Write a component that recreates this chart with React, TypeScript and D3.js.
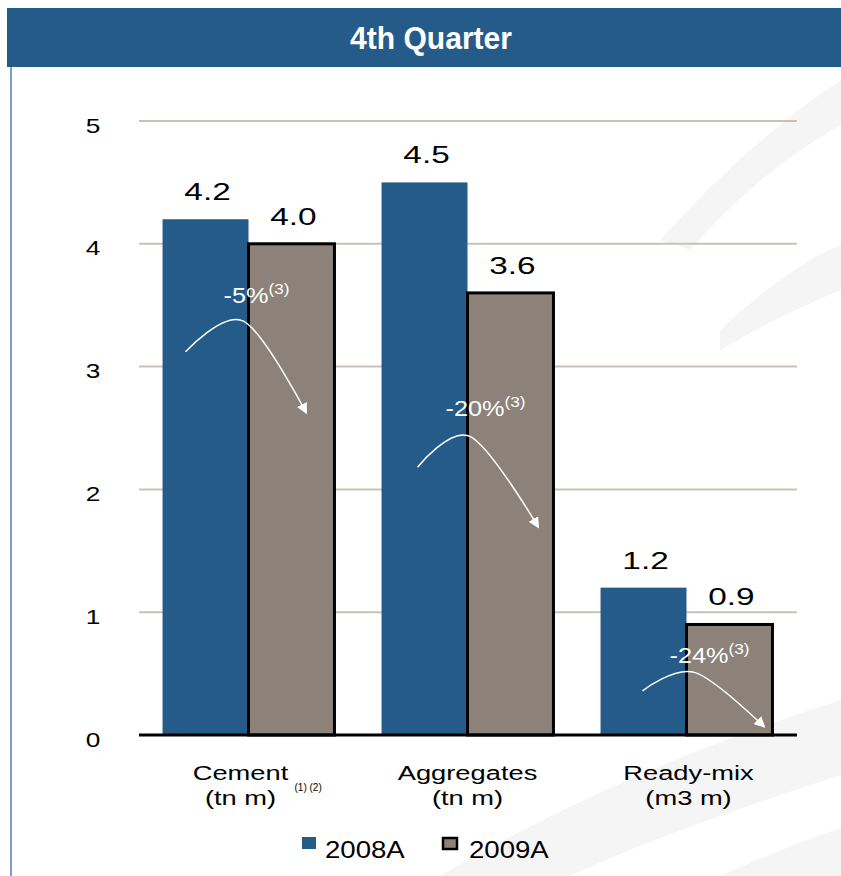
import React from 'react';
import * as d3 from 'd3';

const categories = ['Cement', 'Aggregates', 'Ready-mix'];
const unitLabels = ['(tn m)', '(tn m)', '(m3 m)'];
const series = ['2008A', '2009A'];
const values2008 = [4.2, 4.5, 1.2];
const values2009 = [4.0, 3.6, 0.9];
const yTicks = [0, 1, 2, 3, 4, 5];

// change annotations (y in value units, x as offset from the bar boundary)
const changeLabels = ['-5%', '-20%', '-24%'];
const changeTextDx = [-25, -22, -17];
const changeTextY = [3.52, 2.6, 0.59];
const arrowStart = [[-63, 3.12], [-50, 2.18], [-44, 0.36]];
const arrowPeak = [[-5, 3.37], [3, 2.43], [8, 0.51]];
const arrowTip = [[58, 2.62], [71, 1.69], [78, 0.065]];

const W = 841;
const H = 876;
const BLUE = '#255b89';
const TAUPE = '#8c8279';
const FONT = '"Liberation Sans", Arial, sans-serif';

const App: React.FC = () => {
  const x0 = d3.scaleBand<string>()
    .domain(categories)
    .range([139, 796])
    .paddingInner(0.215)
    .paddingOuter(0.1075);

  const x1 = d3.scaleBand<string>()
    .domain(series)
    .range([0, x0.bandwidth()]);

  const y = d3.scaleLinear().domain([0, 5]).range([735, 121]);

  const curve = d3.line<number[]>()
    .x(d => d[0])
    .y(d => d[1])
    .curve(d3.curveCardinal);

  const [gx0, gx1] = x0.range();

  return (
    <svg width={W} height={H} style={{ position: 'absolute', left: 0, top: 0 }} fontFamily={FONT}>
      <defs>
        <marker id="head" viewBox="0 0 10 10" refX="9" refY="5" markerWidth="11" markerHeight="11"
          markerUnits="userSpaceOnUse" orient="auto">
          <path d="M0,0 L10,5 L0,10 z" fill="#fff" />
        </marker>
      </defs>
      <rect width={W} height={H} fill="#fff" />

      {/* faint background swooshes */}
      <g fill="#f5f5f5">
        <path d="M660,240 Q750,140 841,80 L841,125 Q760,170 690,250 Z" />
        <path d="M720,330 Q790,265 841,245 L841,290 Q780,315 720,350 Z" />
        <path d="M440,876 Q620,770 841,700 L841,775 Q670,830 570,876 Z" />
        <path d="M720,876 Q790,845 841,828 L841,876 Z" />
      </g>

      {/* header */}
      <rect x={7} y={8} width={W - 7} height={59} fill={BLUE} />
      <g transform="translate(431,49) scale(0.97,1)">
        <text fill="#fff" fontSize={31} fontWeight="bold" textAnchor="middle">4th Quarter</text>
      </g>
      <line x1={11} x2={11} y1={67} y2={H} stroke="#4f7fb3" strokeWidth={1.5} />

      {/* grid */}
      {yTicks.filter(t => t > 0).map(t => (
        <line key={t} x1={gx0} x2={gx1 + 1} y1={y(t)} y2={y(t)} stroke="#c9c1b9" strokeWidth={2} />
      ))}
      {yTicks.map(t => (
        <g key={'l' + t} transform={`translate(93,${y(t) + 4}) scale(1.25,1)`}>
          <text fontSize={21} textAnchor="middle" dominantBaseline="central" fill="#000">{t}</text>
        </g>
      ))}

      {/* bars */}
      {categories.map((c, i) => {
        const bx = x0(c)!;
        const w = x1.bandwidth();
        const xa = bx + x1('2008A')!;
        const xb = bx + x1('2009A')!;
        return (
          <g key={c}>
            <rect x={xa} y={y(values2008[i])} width={w} height={y(0) - y(values2008[i])} fill={BLUE} />
            <rect x={xb} y={y(values2009[i])} width={w} height={y(0) - y(values2009[i])}
              fill={TAUPE} stroke="#000" strokeWidth={3} />
            <g transform={`translate(${xa + w / 2 + 2},${y(values2008[i]) - 19}) scale(1.45,1)`}>
              <text fontSize={23} textAnchor="middle">{values2008[i].toFixed(1)}</text>
            </g>
            <g transform={`translate(${xb + w / 2 + 2},${y(values2009[i]) - 19}) scale(1.45,1)`}>
              <text fontSize={23} textAnchor="middle">{values2009[i].toFixed(1)}</text>
            </g>
          </g>
        );
      })}

      {/* axis */}
      <line x1={gx0} x2={gx1 + 1} y1={y(0)} y2={y(0)} stroke="#000" strokeWidth={3} />

      {/* change annotations */}
      {categories.map((c, i) => {
        const b = x0(c)! + x1('2009A')!;
        const pts = [arrowStart[i], arrowPeak[i], arrowTip[i]].map(p => [b + p[0], y(p[1])]);
        return (
          <g key={'a' + c}>
            <path d={curve(pts) || ''} fill="none" stroke="#fff" strokeWidth={1.5} markerEnd="url(#head)" />
            <g transform={`translate(${b + changeTextDx[i]},${y(changeTextY[i])}) scale(1.15,1)`}>
              <text fontSize={22} fill="#fff">
                {changeLabels[i]}
                <tspan fontSize={15} dy={-9}>(3)</tspan>
              </text>
            </g>
          </g>
        );
      })}

      {/* category labels */}
      {categories.map((c, i) => {
        const cx = x0(c)! + x0.bandwidth() / 2 + (i === 0 ? -8 : i === 2 ? 2 : 0);
        return (
          <g key={'c' + c}>
            <g transform={`translate(${cx},780) scale(1.3,1)`}>
              <text fontSize={21} textAnchor="middle">{c}</text>
            </g>
            <g transform={`translate(${cx},805) scale(1.3,1)`}>
              <text fontSize={21} textAnchor="middle">{unitLabels[i]}</text>
            </g>
            {i === 0 && (
              <text x={cx + 54} y={791} fontSize={10}>(1) (2)</text>
            )}
          </g>
        );
      })}

      {/* legend */}
      <rect x={302} y={837} width={14} height={12} fill={BLUE} />
      <g transform="translate(325,858) scale(1.2,1)">
        <text fontSize={23}>{series[0]}</text>
      </g>
      <rect x={443} y={838} width={14} height={11} fill={TAUPE} stroke="#000" strokeWidth={2.5} />
      <g transform="translate(469,858) scale(1.2,1)">
        <text fontSize={23}>{series[1]}</text>
      </g>
    </svg>
  );
};

export default App;
